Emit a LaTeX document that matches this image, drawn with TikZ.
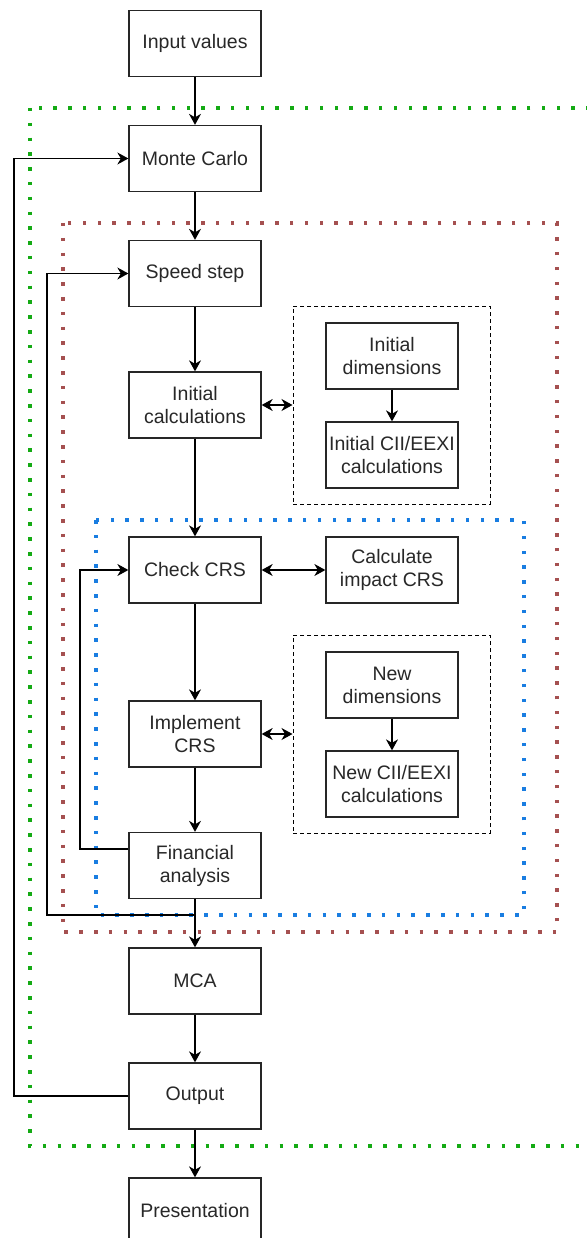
\documentclass[tikz,border=0pt]{standalone}
\usepackage{fontspec}
\setmainfont{Liberation Sans}
\usetikzlibrary{arrows.meta}
\definecolor{grn}{RGB}{20,170,20}
\definecolor{redd}{RGB}{165,80,80}
\definecolor{blu}{RGB}{25,125,225}
\definecolor{txt}{RGB}{40,40,40}
\tikzset{
  box/.style={draw=black!85, line width=1.3pt, minimum width=132pt, minimum height=66pt, inner sep=0pt, align=center, text=txt, font=\fontsize{19.5}{23}\selectfont},
  dotbox/.style={line width=3.5pt, dash pattern=on 3.5pt off 11.3pt},
  dashbox/.style={draw=black, line width=1pt, dash pattern=on 4pt off 3pt},
  conn/.style={draw=black, line width=1.3pt, -{Stealth[length=11pt,width=12pt,inset=3.5pt]}},
  dconn/.style={draw=black, line width=1.3pt, {Stealth[length=11pt,width=12pt,inset=3.5pt]}-{Stealth[length=11pt,width=12pt,inset=3.5pt]}},
  line/.style={draw=black, line width=1.3pt}
}
\begin{document}
\begin{tikzpicture}[x=1pt,y=-1pt]
\useasboundingbox[fill=white] (0,0) rectangle (586,1238);
% dotted frames
\draw[dotbox, draw=grn] (30,108) rectangle (589,1146);
\draw[dotbox, draw=redd] (63,223) rectangle (557,932);
\draw[dotbox, draw=blu] (96,520) rectangle (524,915);
% dashed groups
\node[dashbox, minimum width=197pt, minimum height=198pt, inner sep=0pt] (g1) at (391.5,405) {};
\node[dashbox, minimum width=197pt, minimum height=198pt, inner sep=0pt] (g2) at (391.5,734) {};
% main column
\node[box] (input) at (195,43.5) {Input values};
\node[box] (monte) at (195,158.5) {Monte Carlo};
\node[box] (speed) at (195,273.5) {Speed step};
\node[box] (initcalc) at (195,405) {Initial\\calculations};
\node[box] (check) at (195,570) {Check CRS};
\node[box] (impl) at (195,734) {Implement\\CRS};
\node[box] (fin) at (195,865.5) {Financial\\analysis};
\node[box] (mca) at (195,981) {MCA};
\node[box] (out) at (195,1096) {Output};
\node[box] (pres) at (195,1211) {Presentation};
% right column
\node[box] (initdim) at (392,356) {Initial\\dimensions};
\node[box] (initcii) at (392,455) {Initial CII/EEXI\\calculations};
\node[box] (impact) at (392,570) {Calculate\\impact CRS};
\node[box] (newdim) at (392,685) {New\\dimensions};
\node[box] (newcii) at (392,784) {New CII/EEXI\\calculations};
% connectors
\draw[conn] (input) -- (monte);
\draw[conn] (monte) -- (speed);
\draw[conn] (speed) -- (initcalc);
\draw[conn] (initcalc) -- (check);
\draw[conn] (check) -- (impl);
\draw[conn] (impl) -- (fin);
\draw[conn] (fin) -- (mca);
\draw[conn] (mca) -- (out);
\draw[conn] (out) -- (pres);
\draw[conn] (initdim) -- (initcii);
\draw[conn] (newdim) -- (newcii);
\draw[dconn] (initcalc.east) -- (g1.west);
\draw[dconn] (impl.east) -- (g2.west);
\draw[dconn] (check) -- (impact);
% feedback loops
\coordinate (fb1) at (80,849);
\draw[conn] (fin.west |- fb1) -- (fb1) |- (check.west);
\coordinate (fb2a) at (195,915);
\coordinate (fb2) at (47,915);
\draw[conn] (fb2a) -- (fb2) |- (speed.west);
\coordinate (fb3) at (14,1096);
\draw[conn] (out.west) -- (fb3) |- (monte.west);
\end{tikzpicture}
\end{document}
